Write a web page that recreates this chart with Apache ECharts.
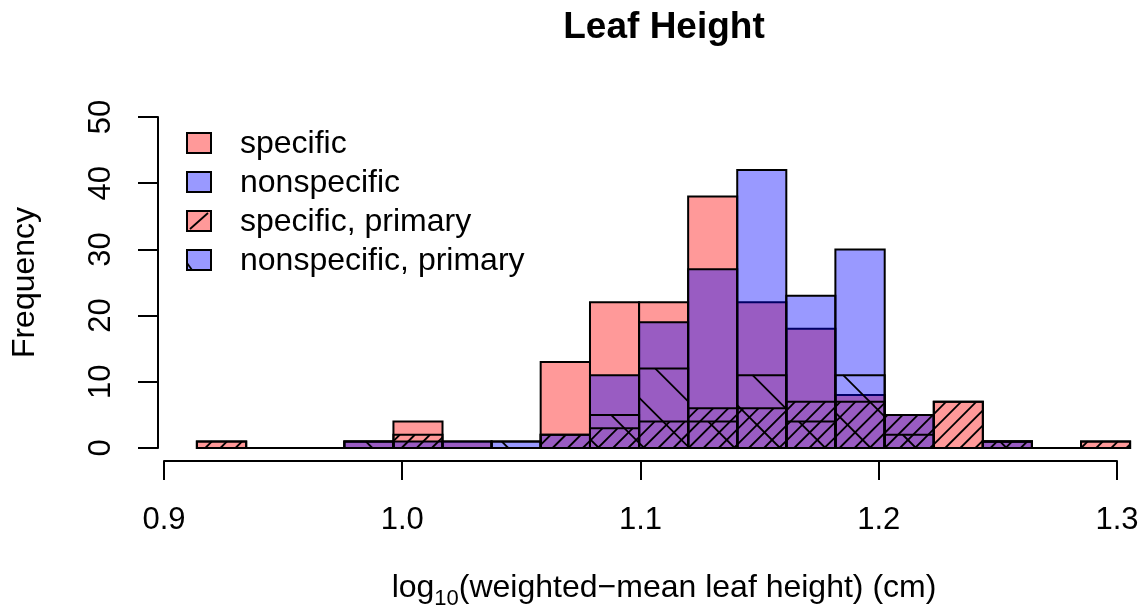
<!DOCTYPE html>
<html>
<head>
<meta charset="utf-8">
<title>Leaf Height</title>
<script src="https://cdn.jsdelivr.net/npm/echarts@6/dist/echarts.min.js"></script>
<style>
  html, body { margin: 0; padding: 0; background: #ffffff; }
  #chart { width: 1146px; height: 611px; }
</style>
</head>
<body>
<div id="chart"></div>
<script>
// Histogram bin edges (log10 of weighted-mean leaf height, cm)
const breaks = [0.9138, 0.9345, 0.9551, 0.9757, 0.9963, 1.0169, 1.0375, 1.0581, 1.0788, 1.0994,
                1.1200, 1.1406, 1.1612, 1.1818, 1.2025, 1.2231, 1.2437, 1.2643, 1.2849, 1.3055];

// Counts per bin
const specific           = [1, 0, 0, 1, 4, 1, 0, 13, 22, 22, 38, 22, 18, 8, 5, 7, 1, 0, 1];
const nonspecific        = [0, 0, 0, 1, 1, 1, 1, 2, 11, 19, 27, 42, 23, 30, 5, 0, 1, 0, 0];
const specificPrimary    = [1, 0, 0, 0, 2, 0, 0, 2, 3, 4, 6, 6, 7, 7, 5, 7, 1, 0, 1];
const nonspecificPrimary = [0, 0, 0, 1, 0, 0, 1, 0, 5, 12, 4, 11, 4, 11, 2, 0, 1, 0, 0];

const legendLabels = ['specific', 'nonspecific', 'specific, primary', 'nonspecific, primary'];
const titleText = 'Leaf Height';
const yTitle = 'Frequency';

const FONT = '"Liberation Sans", Arial, Helvetica, sans-serif';
const RED = 'rgba(255,0,0,0.4)';
const BLUE = 'rgba(0,0,255,0.4)';

// Diagonal hatching clipped to a rectangle.
// dir > 0: "/" lines (x + y = const); dir < 0: "\" lines (y - x = const)
function hatchLines(x0, y0, x1, y1, dir, spacing, phase) {
  const out = [];
  if (y1 - y0 < 0.5) return out;
  if (dir > 0) {
    const cMin = x0 + y0, cMax = x1 + y1;
    for (let c = Math.ceil((cMin - phase) / spacing) * spacing + phase; c <= cMax; c += spacing) {
      const xa = Math.max(x0, c - y1), xb = Math.min(x1, c - y0);
      if (xb - xa > 0.3) out.push([xa, c - xa, xb, c - xb]);
    }
  } else {
    const cMin = y0 - x1, cMax = y1 - x0;
    for (let c = Math.ceil((cMin - phase) / spacing) * spacing + phase; c <= cMax; c += spacing) {
      const xa = Math.max(x0, y0 - c), xb = Math.min(x1, y1 - c);
      if (xb - xa > 0.3) out.push([xa, xa + c, xb, xb + c]);
    }
  }
  return out;
}

function histSeries(name, counts, fill, hatch) {
  return {
    type: 'custom',
    name: name,
    clip: false,
    animation: false,
    encode: { x: [0, 1], y: 2 },
    data: counts.map((c, i) => [breaks[i], breaks[i + 1], c]),
    renderItem: function (params, api) {
      const pb = api.coord([api.value(0), 0]);
      const pt = api.coord([api.value(1), api.value(2)]);
      const x0 = pb[0], x1 = pt[0], yb = pb[1], yt = pt[1];
      const children = [{
        type: 'rect',
        shape: { x: x0, y: yt, width: x1 - x0, height: yb - yt },
        style: { fill: fill, stroke: '#000', lineWidth: 2 }
      }];
      if (hatch) {
        hatchLines(x0, yt, x1, yb, hatch.dir, hatch.spacing, hatch.phase).forEach(l => {
          children.push({
            type: 'line',
            shape: { x1: l[0], y1: l[1], x2: l[2], y2: l[3] },
            style: { stroke: '#000', lineWidth: 1.8 }
          });
        });
      }
      return { type: 'group', children: children };
    }
  };
}

// Legend drawn as graphic elements
function legendGraphics() {
  const els = [];
  const bx = 187, bw = 24, bh = 20, tx = 240;
  const rowsY = [143, 182, 221, 260];
  const fills = [RED, BLUE, RED, BLUE];
  legendLabels.forEach((label, i) => {
    const cy = rowsY[i];
    els.push({
      type: 'rect', shape: { x: bx, y: cy - bh / 2, width: bw, height: bh },
      style: { fill: fills[i], stroke: '#000', lineWidth: 2 }
    });
    if (i === 2) {
      els.push({ type: 'line', shape: { x1: bx + 3, y1: cy + bh / 2 - 2, x2: bx + bw - 3, y2: cy - bh / 2 + 2 },
        style: { stroke: '#000', lineWidth: 1.8 } });
    }
    if (i === 3) {
      els.push({ type: 'line', shape: { x1: bx, y1: cy + 3, x2: bx + 5, y2: cy + bh / 2 },
        style: { stroke: '#000', lineWidth: 1.8 } });
    }
    els.push({
      type: 'text', x: tx, y: cy + 1,
      style: { text: label, font: '32px ' + FONT, fill: '#000', textAlign: 'left', textVerticalAlign: 'middle' }
    });
  });
  return els;
}

const chart = echarts.init(document.getElementById('chart'), null, { renderer: 'canvas' });

chart.setOption({
  animation: false,
  backgroundColor: '#ffffff',
  grid: { left: 164, right: 29, top: 117, bottom: 163, containLabel: false },
  xAxis: {
    type: 'value', min: 0.9, max: 1.3, interval: 0.1, offset: 13,
    splitLine: { show: false },
    axisLine: { show: true, onZero: false, lineStyle: { color: '#000', width: 2 } },
    axisTick: { show: true, length: 19, lineStyle: { color: '#000', width: 2 } },
    axisLabel: { show: true, showMinLabel: true, showMaxLabel: true, margin: 44, color: '#000',
      fontSize: 31, fontFamily: FONT, formatter: v => v.toFixed(1) }
  },
  yAxis: {
    type: 'value', min: 0, max: 50, interval: 10, offset: 6,
    splitLine: { show: false },
    axisLine: { show: true, onZero: false, lineStyle: { color: '#000', width: 2 } },
    axisTick: { show: true, length: 20, lineStyle: { color: '#000', width: 2 } },
    axisLabel: { show: true, rotate: 90, margin: 41, color: '#000', fontSize: 31, fontFamily: FONT }
  },
  series: [
    histSeries('specific', specific, RED, null),
    histSeries('nonspecific', nonspecific, BLUE, null),
    histSeries('specific, primary', specificPrimary, 'rgba(0,0,0,0)', { dir: 1, spacing: 15.1, phase: 4 }),
    histSeries('nonspecific, primary', nonspecificPrimary, 'rgba(0,0,0,0)', { dir: -1, spacing: 45.3, phase: 30.3 })
  ],
  graphic: [
    {
      type: 'text', x: 664, y: 28,
      style: { text: titleText, font: 'bold 37px ' + FONT, fill: '#000', textAlign: 'center', textVerticalAlign: 'middle' }
    },
    {
      type: 'text', x: 25, y: 282.5, rotation: Math.PI / 2,
      style: { text: yTitle, font: '32px ' + FONT, fill: '#000', textAlign: 'center', textVerticalAlign: 'middle' }
    },
    {
      type: 'text', x: 664, y: 591,
      style: {
        text: '{n|log}{s|10}{n|(weighted\u2212mean leaf height) (cm)}',
        textAlign: 'center', textVerticalAlign: 'middle', fill: '#000',
        rich: {
          n: { fontSize: 32, fontFamily: FONT, lineHeight: 32, verticalAlign: 'top', fill: '#000' },
          s: { fontSize: 22, fontFamily: FONT, lineHeight: 37, verticalAlign: 'bottom', fill: '#000' }
        }
      }
    }
  ].concat(legendGraphics())
});
</script>
</body>
</html>
